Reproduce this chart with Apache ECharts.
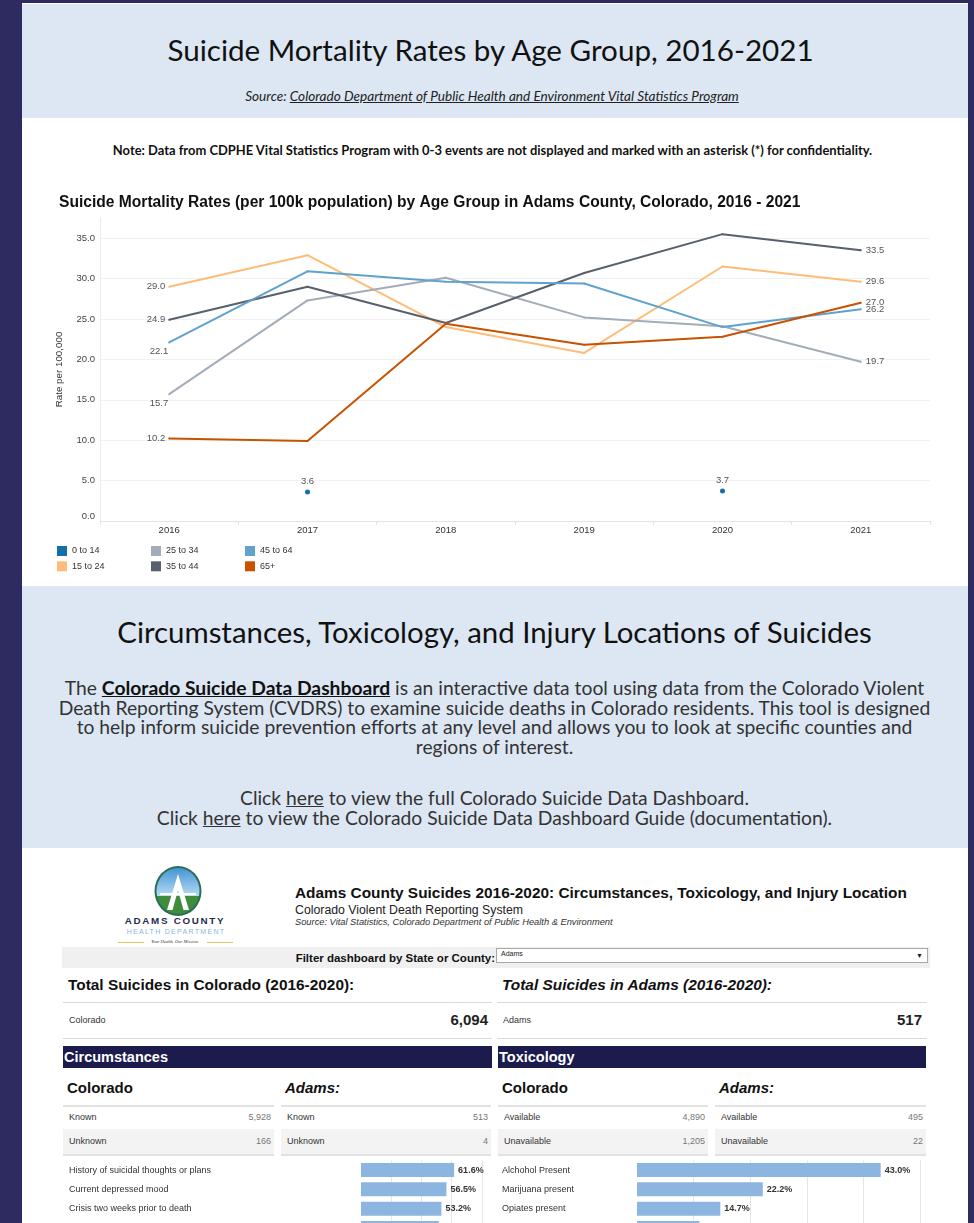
<!DOCTYPE html>
<html><head><meta charset="utf-8">
<script src="https://cdn.jsdelivr.net/npm/echarts@6/dist/echarts.min.js"></script>
<style>
html,body{margin:0;padding:0;width:974px;height:1223px;overflow:hidden;background:#2d2b5f;position:relative;}
.a{position:absolute;white-space:nowrap;}
.lato{font-family:Lato,'Open Sans',sans-serif;}
.ar{font-family:'Liberation Sans',Arial,sans-serif;}
.panel{position:absolute;left:22px;width:946px;}
.ln{position:absolute;height:1px;background:#dadada;}
</style></head>
<body>
<div class="panel" style="top:3px;height:114px;background:#dce7f3;border-top:1px solid #fff"></div>
<div class="panel" style="top:118px;height:468px;background:#fff"></div>
<div class="panel" style="top:586px;height:262px;background:#dce7f3"></div>
<div class="panel" style="top:848px;height:380px;background:#fff"></div>

<div class="a lato" style="left:22px;width:937px;top:30px;height:40px;line-height:40px;text-align:center;font-size:29.6px;color:#111">Suicide Mortality Rates by Age Group, 2016-2021</div>
<div class="a lato" style="left:22px;width:940px;top:88px;height:16px;line-height:16px;text-align:center;font-size:13.6px;font-style:italic;color:#222">Source: <u>Colorado Department of Public Health and Environment Vital Statistics Program</u></div>
<div class="a lato" style="left:22px;width:941px;top:142px;height:16px;line-height:16px;text-align:center;font-size:12.95px;font-weight:bold;color:#111">Note: Data from CDPHE Vital Statistics Program with 0-3 events are not displayed and marked with an asterisk (*) for confidentiality.</div>

<div class="a lato" style="left:22px;width:945px;top:612px;height:40px;line-height:40px;text-align:center;font-size:29.4px;color:#111">Circumstances, Toxicology, and Injury Locations of Suicides</div>
<div class="a lato" style="left:22px;width:945px;top:678px;line-height:19.5px;text-align:center;font-size:19.3px;color:#333">The <b style="color:#111"><u>Colorado Suicide Data Dashboard</u></b> is an interactive data tool using data from the Colorado Violent<br>Death Reporting System (CVDRS) to examine suicide deaths in Colorado residents. This tool is designed<br>to help inform suicide prevention efforts at any level and allows you to look at specific counties and<br>regions of interest.</div>
<div class="a lato" style="left:22px;width:945px;top:788px;line-height:20px;text-align:center;font-size:19.3px;color:#333">Click <u>here</u> to view the full Colorado Suicide Data Dashboard.<br>Click <u>here</u> to view the Colorado Suicide Data Dashboard Guide (documentation).</div>

<!-- logo -->
<svg class="a" style="left:154px;top:866px" width="48" height="50" viewBox="0 0 48 50">
<defs><linearGradient id="sky" x1="0" y1="0" x2="0" y2="1"><stop offset="0" stop-color="#3d8fd2"/><stop offset="1" stop-color="#b5dbf3"/></linearGradient>
<clipPath id="cl"><ellipse cx="24" cy="25" rx="21.5" ry="23"/></clipPath></defs>
<ellipse cx="24" cy="25" rx="23.5" ry="25" fill="#2a6e58"/>
<g clip-path="url(#cl)">
<rect x="0" y="0" width="48" height="30" fill="url(#sky)"/>
<rect x="0" y="30" width="48" height="22" fill="#3f8d3c"/>
<path d="M24 8 L13 44 L18.5 44 L24 24 L29.5 44 L35 44 Z" fill="#fff"/>
<rect x="6" y="27" width="36" height="2.2" fill="#fff"/>
</g></svg>
<div class="a ar" style="left:100px;width:150px;top:915px;line-height:12px;text-align:center;font-size:9.8px;font-weight:bold;letter-spacing:1.7px;color:#1f2c50">ADAMS COUNTY</div>
<div class="a ar" style="left:100px;width:152px;top:927px;line-height:10px;text-align:center;font-size:7px;letter-spacing:1.3px;color:#8ab8dc">HEALTH DEPARTMENT</div>
<div class="a" style="left:118px;width:26px;top:942px;height:1px;background:#e3c766"></div>
<div class="a" style="left:207px;width:26px;top:942px;height:1px;background:#e3c766"></div>
<div class="a" style="left:140px;width:70px;top:939px;line-height:6px;text-align:center;font-size:4.5px;font-style:italic;font-family:'Liberation Serif',serif;color:#333">Your Health. Our Mission.</div>

<div class="a ar" style="left:295px;top:884px;line-height:18px;font-size:15.4px;font-weight:bold;color:#111">Adams County Suicides 2016-2020: Circumstances, Toxicology, and Injury Location</div>
<div class="a ar" style="left:295px;top:903px;line-height:14px;font-size:12.3px;color:#222">Colorado Violent Death Reporting System</div>
<div class="a ar" style="left:295px;top:917px;line-height:10px;font-size:9.3px;font-style:italic;color:#333">Source: Vital Statistics, Colorado Department of Public Health &amp; Environment</div>

<div class="a" style="left:62px;top:947px;width:868px;height:21px;background:#f0f0f0"></div>
<div class="a ar" style="left:200px;width:295px;top:951px;line-height:14px;text-align:right;font-size:11.5px;font-weight:bold;color:#111">Filter dashboard by State or County:</div>
<div class="a ar" style="left:496px;top:948px;width:430px;height:13px;border:1px solid #a8a8a8;background:#fff;font-size:7px;line-height:10px;color:#222"><span style="position:absolute;left:4px;top:0">Adams</span><span style="position:absolute;right:4px;top:2px;font-size:7px">&#9660;</span></div>

<div class="a ar" style="left:68px;top:976px;line-height:18px;font-size:15.4px;font-weight:bold;color:#111">Total Suicides in Colorado (2016-2020):</div>
<div class="a ar" style="left:502px;top:976px;line-height:18px;font-size:15.4px;font-weight:bold;font-style:italic;color:#111">Total Suicides in Adams (2016-2020):</div>
<div class="ln" style="left:63px;width:429px;top:1002px"></div>
<div class="ln" style="left:63px;width:429px;top:1038px"></div>
<div class="ln" style="left:497px;width:430px;top:1002px"></div>
<div class="ln" style="left:497px;width:430px;top:1038px"></div>
<div class="a ar" style="left:69px;top:1014px;line-height:12px;font-size:9px;color:#333">Colorado</div>
<div class="a ar" style="left:300px;width:188px;top:1010px;line-height:20px;text-align:right;font-size:15px;font-weight:bold;color:#222">6,094</div>
<div class="a ar" style="left:503px;top:1014px;line-height:12px;font-size:9px;color:#333">Adams</div>
<div class="a ar" style="left:740px;width:182px;top:1010px;line-height:20px;text-align:right;font-size:15px;font-weight:bold;color:#222">517</div>

<div class="a ar" style="left:63px;top:1046px;width:429px;height:22px;background:#1c1b4d;color:#fff;font-size:14.5px;font-weight:bold;line-height:22px;text-indent:1px">Circumstances</div>
<div class="a ar" style="left:498px;top:1046px;width:428px;height:22px;background:#1c1b4d;color:#fff;font-size:14.5px;font-weight:bold;line-height:22px;text-indent:1px">Toxicology</div>

<div class="a ar" style="left:67px;top:1079px;line-height:18px;font-size:15px;font-weight:bold;color:#111">Colorado</div>
<div class="a ar" style="left:285px;top:1079px;line-height:18px;font-size:15px;font-weight:bold;font-style:italic;color:#111">Adams:</div>
<div class="a ar" style="left:502px;top:1079px;line-height:18px;font-size:15px;font-weight:bold;color:#111">Colorado</div>
<div class="a ar" style="left:719px;top:1079px;line-height:18px;font-size:15px;font-weight:bold;font-style:italic;color:#111">Adams:</div>

<div id="tables"></div>

<div id="lineChart" style="position:absolute;left:0;top:0;width:974px;height:586px"></div>
<div id="barChart" style="position:absolute;left:0;top:1155px;width:974px;height:100px"></div>

<script>
// ---- line chart data ----
const years = ['2016','2017','2018','2019','2020','2021'];
const ageGroups = ['0 to 14','15 to 24','25 to 34','35 to 44','45 to 64','65+'];
const rate0to14  = [null, 3.6, null, null, 3.7, null];
const rate15to24 = [29.0, 32.9, 24.0, 20.8, 31.5, 29.6];
const rate25to34 = [15.7, 27.3, 30.1, 25.2, 24.1, 19.7];
const rate35to44 = [24.9, 29.0, 24.5, 30.7, 35.5, 33.5];
const rate45to64 = [22.1, 30.9, 29.6, 29.4, 24.0, 26.2];
const rate65plus = [10.2, 9.9, 24.4, 21.8, 22.8, 27.0];

// ---- dashboard data ----
const circColoradoRows = [['Known','5,928'],['Unknown','166']];
const circAdamsRows = [['Known','513'],['Unknown','4']];
const toxColoradoRows = [['Available','4,890'],['Unavailable','1,205']];
const toxAdamsRows = [['Available','495'],['Unavailable','22']];
const circCategories = ['History of suicidal thoughts or plans','Current depressed mood','Crisis two weeks prior to death',''];
const circAdamsPct = [61.6, 56.5, 53.2, 51.5];
const toxCategories = ['Alchohol Present','Marijuana present','Opiates present',''];
const toxAdamsPct = [43.0, 22.2, 14.7, 11.0];

// ---- styles ----
const FONT = "'Liberation Sans', Arial, sans-serif";
const colors = ['#1170aa','#ffbc79','#a3acb9','#57606c','#5fa2ce','#c85200'];
const firstLabelNudge = {'25 to 34':[3,9], '45 to 64':[3,9]};

// small tables
(function(){
  const host = document.getElementById('tables');
  function table(rows, left, width){
    let html = `<div class="ln" style="left:${left}px;width:${width}px;top:1105px;height:2px;background:#e2e2e2"></div>`;
    html += `<div class="a" style="left:${left}px;width:${width}px;top:1129px;height:25px;background:#f3f3f3"></div>`;
    html += `<div class="ln" style="left:${left}px;width:${width}px;top:1154px;height:2px;background:#e2e2e2"></div>`;
    rows.forEach((r,i)=>{
      const cy = i===0 ? 1117 : 1141;
      html += `<div class="a ar" style="left:${left+6}px;top:${cy-6}px;line-height:12px;font-size:9px;color:#333">${r[0]}</div>`;
      html += `<div class="a ar" style="left:${left}px;width:${width-3}px;top:${cy-6}px;line-height:12px;text-align:right;font-size:9px;color:#777">${r[1]}</div>`;
    });
    return html;
  }
  host.innerHTML = table(circColoradoRows,63,211)+table(circAdamsRows,281,210)+table(toxColoradoRows,498,210)+table(toxAdamsRows,715,211);
})();

const rates = [rate0to14, rate15to24, rate25to34, rate35to44, rate45to64, rate65plus];
const labelBase = {color:'#555', fontSize:9.5, fontFamily:FONT, formatter: p => Number(p.value).toFixed(1)};

const series = ageGroups.map((name, si) => {
  const arr = rates[si];
  if (si === 0) {
    return {
      name, type:'line', data: arr.map(v => v == null ? '-' : v),
      symbol:'circle', symbolSize:5, showSymbol:true,
      itemStyle:{color:colors[si]}, lineStyle:{width:2, color:colors[si]},
      label:Object.assign({show:true, position:'top', distance:3}, labelBase)
    };
  }
  const last = arr.length - 1;
  const data = arr.map((v, i) => {
    if (i === 0) {
      const nudge = firstLabelNudge[name] || [0,0];
      return {value:v, label:{show:true, position:'left', distance:3, offset:nudge}};
    }
    if (i === last) return {value:v, label:{show:true, position:'right', distance:4}};
    return {value:v, label:{show:false}};
  });
  return {
    name, type:'line', data, symbol:'circle', symbolSize:2, showSymbol:true, showAllSymbol:true,
    itemStyle:{color:colors[si]}, lineStyle:{width:2, color:colors[si]},
    label:Object.assign({show:false}, labelBase), emphasis:{disabled:true}
  };
});

const legendCommon = {orient:'vertical', icon:'rect', itemWidth:10, itemHeight:10, itemGap:5.3, padding:0,
  textStyle:{fontSize:9, color:'#333', fontFamily:FONT}, top:546};

const lc = echarts.init(document.getElementById('lineChart'));
lc.setOption({
  animation:false,
  color: colors,
  title:{text:'Suicide Mortality Rates (per 100k population) by Age Group in Adams County, Colorado, 2016 - 2021',
    left:59, top:195, padding:0, textStyle:{fontSize:15.6, fontWeight:'bold', color:'#111', fontFamily:FONT}},
  legend:[
    Object.assign({left:57, data:ageGroups.slice(0,2)}, legendCommon),
    Object.assign({left:151, data:ageGroups.slice(2,4)}, legendCommon),
    Object.assign({left:245, data:ageGroups.slice(4,6)}, legendCommon)
  ],
  grid:{left:100, right:44, top:218, bottom:65, containLabel:false},
  xAxis:{type:'category', data:years, boundaryGap:true,
    axisLine:{show:true, lineStyle:{color:'#e4e4e4'}},
    axisTick:{show:true, length:4, lineStyle:{color:'#e4e4e4'}},
    axisLabel:{fontSize:9.5, color:'#333', margin:4, fontFamily:FONT},
    splitLine:{show:false}},
  yAxis:{type:'value', min:0, max:37.5, interval:5,
    name:'Rate per 100,000', nameLocation:'middle', nameGap:36,
    nameTextStyle:{fontSize:9.8, color:'#333', fontFamily:FONT},
    axisLine:{show:true, lineStyle:{color:'#ececec'}}, axisTick:{show:false},
    axisLabel:{fontSize:9.5, color:'#444', margin:5, fontFamily:FONT, showMaxLabel:false,
      verticalAlignMinLabel:'bottom',
      formatter: v => (v % 5 === 0 ? v.toFixed(1) : '')},
    splitLine:{show:true, showMinLine:false, showMaxLine:false, lineStyle:{color:'#f1f1f1', width:1}}},
  series
});

// ---- bar charts ----
const bc = echarts.init(document.getElementById('barChart'));
const barLabel = {show:true, position:'right', distance:4, fontSize:9, fontWeight:'bold', color:'#333', fontFamily:FONT,
  formatter: p => Number(p.value).toFixed(1) + '%'};
bc.setOption({
  animation:false,
  grid:[
    {left:361, width:130, top:5.4, height:77.2},
    {left:637, width:289, top:5.4, height:77.2}
  ],
  xAxis:[
    {gridIndex:0, type:'value', min:0, max:86, interval:20, axisLabel:{show:false}, axisLine:{show:false}, axisTick:{show:false},
     splitLine:{show:true, showMinLine:false, showMaxLine:false, lineStyle:{color:'#e6e6e6'}}},
    {gridIndex:1, type:'value', min:0, max:51, interval:10, axisLabel:{show:false}, axisLine:{show:false}, axisTick:{show:false},
     splitLine:{show:true, showMinLine:false, showMaxLine:false, lineStyle:{color:'#e6e6e6'}}}
  ],
  yAxis:[
    {gridIndex:0, type:'category', data:circCategories, inverse:true, axisLine:{show:false}, axisTick:{show:false},
     axisLabel:{align:'left', margin:292, fontSize:9, color:'#333', fontFamily:FONT}},
    {gridIndex:1, type:'category', data:toxCategories, inverse:true, axisLine:{show:false}, axisTick:{show:false},
     axisLabel:{align:'left', margin:135, fontSize:9, color:'#333', fontFamily:FONT}}
  ],
  series:[
    {type:'bar', xAxisIndex:0, yAxisIndex:0, data:circAdamsPct, barWidth:14, itemStyle:{color:'#8cb6e0'}, label:barLabel},
    {type:'bar', xAxisIndex:1, yAxisIndex:1, data:toxAdamsPct, barWidth:14, itemStyle:{color:'#8cb6e0'}, label:barLabel}
  ]
});
</script>
</body></html>
